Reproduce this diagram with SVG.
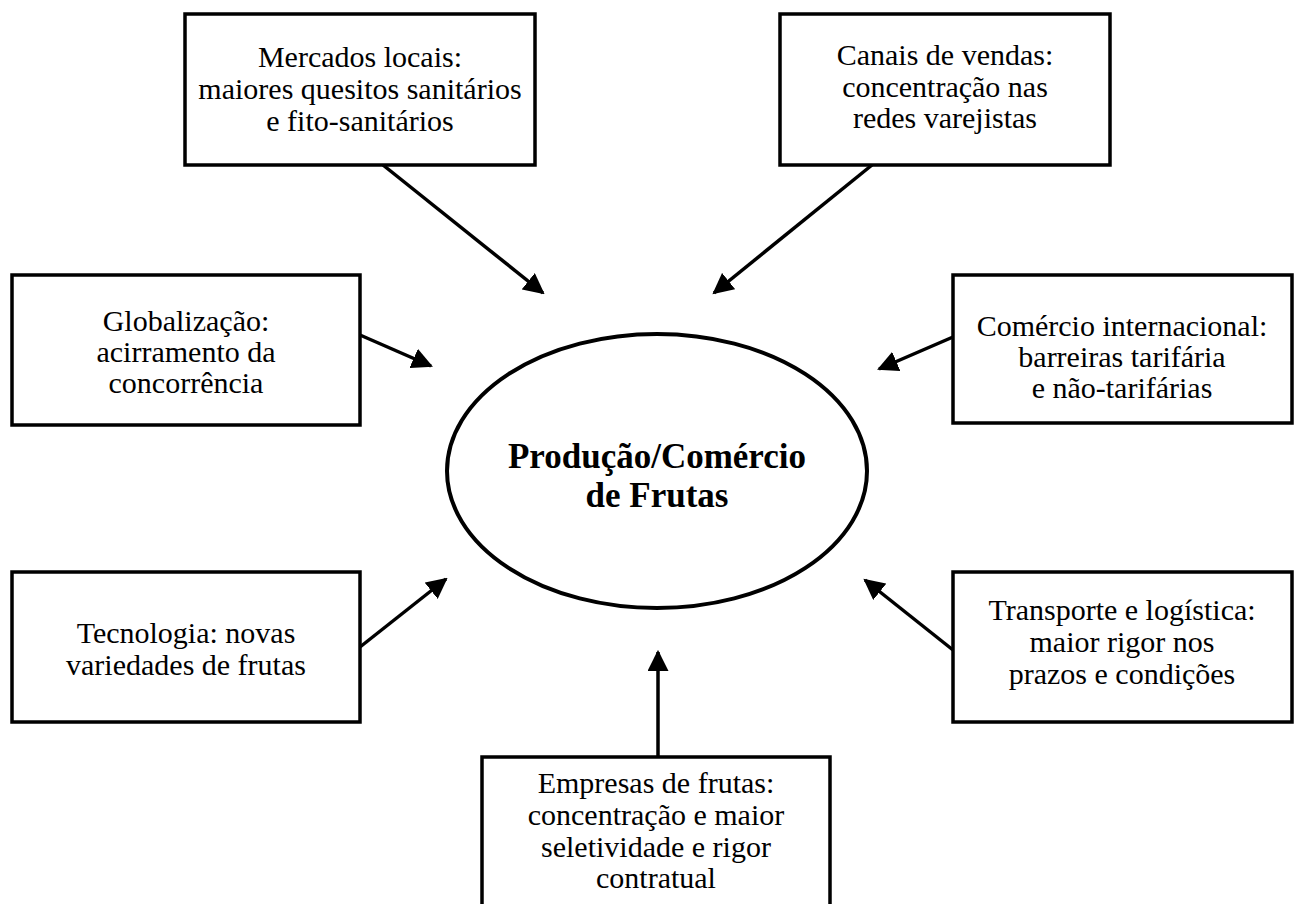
<svg xmlns="http://www.w3.org/2000/svg" width="1294" height="904" viewBox="0 0 1294 904">
<defs>
<style>
.box{fill:#fff;stroke:#000;stroke-width:3.5}
.t{font-family:"Liberation Serif","Times New Roman",serif;font-size:30px;fill:#000;text-anchor:middle}
.b{font-family:"Liberation Serif","Times New Roman",serif;font-size:35px;font-weight:bold;fill:#000;text-anchor:middle}
.c{stroke:#000;stroke-width:3.5;fill:none;marker-end:url(#ah)}
</style>
<marker id="ah" viewBox="0 0 10 10" refX="9" refY="5" markerWidth="6" markerHeight="6" markerUnits="strokeWidth" orient="auto">
<path d="M0,0 L10,5 L0,10 z" fill="#000"/>
</marker>
</defs>
<rect width="1294" height="904" fill="#fff"/>
<g id="connectors">
<line class="c" x1="383" y1="165" x2="543" y2="293"/>
<line class="c" x1="872" y1="165" x2="714" y2="293"/>
<line class="c" x1="360" y1="335" x2="431" y2="366"/>
<line class="c" x1="953" y1="337" x2="879" y2="369"/>
<line class="c" x1="360" y1="647" x2="446" y2="579"/>
<line class="c" x1="953" y1="650" x2="865" y2="580"/>
<line class="c" x1="658" y1="757" x2="658" y2="652"/>
</g>
<g id="center">
<ellipse cx="657" cy="471" rx="210" ry="137" fill="#fff" stroke="#000" stroke-width="4"/>
<text class="b" x="657" y="468">Produção/Comércio</text>
<text class="b" x="657" y="507">de Frutas</text>
</g>
<g id="mercados">
<rect class="box" x="185" y="14" width="350" height="151"/>
<text class="t" x="360" y="67">Mercados locais:</text>
<text class="t" x="360" y="99">maiores quesitos sanitários</text>
<text class="t" x="360" y="131">e fito-sanitários</text>
</g>
<g id="canais">
<rect class="box" x="780" y="14" width="330" height="151"/>
<text class="t" x="945" y="65">Canais de vendas:</text>
<text class="t" x="945" y="97">concentração nas</text>
<text class="t" x="945" y="128">redes varejistas</text>
</g>
<g id="globalizacao">
<rect class="box" x="12" y="275" width="348" height="150"/>
<text class="t" x="186" y="331">Globalização:</text>
<text class="t" x="186" y="362">acirramento da</text>
<text class="t" x="186" y="393">concorrência</text>
</g>
<g id="comercio">
<rect class="box" x="953" y="275" width="339" height="148"/>
<text class="t" x="1122" y="336">Comércio internacional:</text>
<text class="t" x="1122" y="367">barreiras tarifária</text>
<text class="t" x="1122" y="398">e não-tarifárias</text>
</g>
<g id="tecnologia">
<rect class="box" x="12" y="572" width="348" height="150"/>
<text class="t" x="186" y="643">Tecnologia: novas</text>
<text class="t" x="186" y="675">variedades de frutas</text>
</g>
<g id="transporte">
<rect class="box" x="953" y="572" width="339" height="150"/>
<text class="t" x="1122" y="620">Transporte e logística:</text>
<text class="t" x="1122" y="652">maior rigor nos</text>
<text class="t" x="1122" y="684">prazos e condições</text>
</g>
<g id="empresas">
<rect class="box" x="482" y="757" width="348" height="160"/>
<text class="t" x="656" y="793">Empresas de frutas:</text>
<text class="t" x="656" y="825">concentração e maior</text>
<text class="t" x="656" y="857">seletividade e rigor</text>
<text class="t" x="656" y="888">contratual</text>
</g>
</svg>
